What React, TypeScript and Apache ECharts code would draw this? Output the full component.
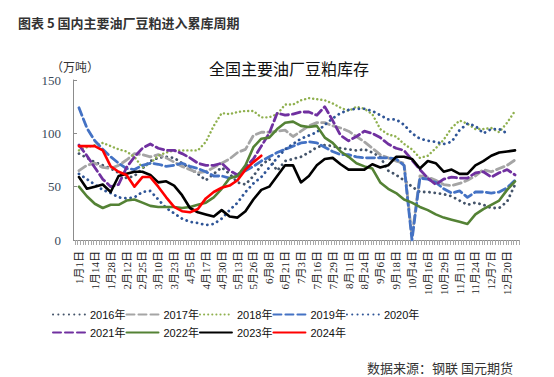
import React, { useEffect, useRef } from "react";
import * as echarts from "echarts";

const categories = [
  "1月1日", "1月7日", "1月14日", "1月21日", "1月28日", "2月5日", "2月12日", "2月18日",
  "2月25日", "3月3日", "3月10日", "3月16日", "3月23日", "3月29日", "4月5日", "4月11日",
  "4月17日", "4月23日", "4月30日", "5月6日", "5月13日", "5月19日", "5月26日", "6月1日",
  "6月8日", "6月14日", "6月21日", "6月27日", "7月3日", "7月9日", "7月16日", "7月22日",
  "7月29日", "8月4日", "8月11日", "8月17日", "8月24日", "8月30日", "9月6日", "9月12日",
  "9月18日", "9月25日", "10月4日", "10月10日", "10月16日", "10月22日", "10月29日", "11月4日",
  "11月11日", "11月17日", "11月24日", "11月30日", "12月7日", "12月13日", "12月20日", "12月27日",
];

const y2016 = [81,77,73,70,67,63,58,60,67,74,77,78,77,72,67,62,56,62,68,62,54,52,60,70,76,65,74,76,78,82,87,89,88,86,85,84,85,82,78,65,61,56,50,45,45,44,43,41,37,33,35,33,30,30,36,52];
const y2017 = [65,70,72,68,67,70,75,81,80,78,80,77,73,69,66,63,64,68,72,76,82,85,98,101,101,102,103,97,102,107,110,110,107,105,102,97,92,86,80,77,74,72,3,60,59,56,52,51,53,56,60,66,64,67,70,75];
const y2018 = [84,87,89,91,88,85,83,78,68,72,79,82,84,84,84,84,92,107,119,118,120,121,121,115,115,118,127,127,131,133,132,131,128,124,121,125,123,118,104,99,97,90,85,77,79,86,94,105,112,109,104,104,105,101,110,121];
const y2019 = [124,105,93,85,78,72,67,66,70,72,71,69,70,72,69,67,64,60,60,58,60,65,69,74,78,82,85,88,91,92,91,87,83,80,80,78,77,77,77,77,76,70,0,58,57,54,48,44,46,40,45,45,44,45,49,56];
const y2020 = [62,57,52,47,44,40,39,40,45,46,38,30,25,20,17,16,14,15,20,28,35,45,53,59,68,77,85,90,95,98,101,108,114,119,122,123,123,121,117,113,113,108,100,95,93,92,90,92,103,109,107,100,104,104,100,null];
const y2021 = [89,79,68,57,50,52,68,78,86,90,86,84,84,81,77,72,70,70,72,65,61,68,76,88,100,119,117,118,120,120,117,125,112,98,93,97,102,100,96,90,86,84,75,66,58,52,57,59,58,58,63,64,59,63,66,61];
const y2022 = [50,41,34,30,33,33,37,38,35,32,31,31,31,30,31,33,35,40,48,58,60,70,87,95,96,104,110,111,107,106,107,96,91,83,78,72,69,67,54,48,44,38,35,31,28,24,21,19,17,15,24,29,33,37,47,55];
const y2023 = [59,48,50,52,45,60,62,64,64,61,54,55,51,42,30,26,24,22,28,22,21,27,38,47,50,60,70,70,54,60,70,76,77,71,66,66,66,71,68,70,78,78,76,67,74,72,64,66,62,62,70,74,79,82,83,84];
const y2024 = [88,88,88,84,69,64,61,50,59,59,50,40,31,27,26,29,39,45,49,51,56,66,73,79];

const yTicks = [0, 50, 100, 150];
const tickCats = Array.from({ length: categories.length * 3 }, () => "");

const DOT_A = [0.1, 5.2];
const DOT_B = [0.1, 4];
const DASH = [8, 4];

function line(name: string, data: (number | null)[], color: string, width: number, type: any, z: number) {
  return {
    name,
    type: "line",
    data,
    symbol: "none",
    showSymbol: false,
    z,
    lineStyle: { color, width, type, cap: "round", join: "round" },
    itemStyle: { color },
    emphasis: { disabled: true },
  };
}

export default function App() {
  const ref = useRef<HTMLDivElement>(null);
  useEffect(() => {
    const chart = echarts.init(ref.current!, null, { renderer: "svg" });
    const legendText = { fontSize: 11, color: "#111", fontFamily: "Liberation Sans, Noto Sans CJK SC", width: 56 };
    const legendBase = {
      left: 47, itemWidth: 32, itemHeight: 14, itemGap: 0, selectedMode: false,
      itemStyle: { opacity: 0, borderWidth: 0 },
      textStyle: legendText,
    };
    chart.setOption({
      animation: false,
      backgroundColor: "#ffffff",
      grid: [
        { left: 75, top: 80, width: 444, height: 160, containLabel: false },
        { left: 75, top: 80, width: 444, height: 160, containLabel: false },
      ],
      graphic: [
        {
          type: "text", left: 18, top: 16,
          style: { text: "图表 5 国内主要油厂豆粕进入累库周期", fontSize: 13, fontWeight: "bold", fill: "#333", fontFamily: "Noto Sans CJK SC" },
        },
        {
          type: "text", x: 289, y: 68,
          style: { text: "全国主要油厂豆粕库存", fontSize: 16, fill: "#111", align: "center", verticalAlign: "middle", fontFamily: "Noto Sans CJK SC" },
        },
        {
          type: "text", x: 51, y: 66,
          style: { text: "（万吨）", fontSize: 12, fill: "#333", verticalAlign: "middle", fontFamily: "Noto Sans CJK SC" },
        },
        {
          type: "text", x: 513, y: 367,
          style: { text: "数据来源：钢联 国元期货", fontSize: 13, fill: "#333", align: "right", verticalAlign: "middle", fontFamily: "Noto Sans CJK SC" },
        },
      ],
      legend: [
        { ...legendBase, top: 304, data: ["2016年", "2017年", "2018年", "2019年", "2020年"] },
        { ...legendBase, top: 322, data: ["2021年", "2022年", "2023年", "2024年"] },
      ],
      xAxis: [
        {
          type: "category", gridIndex: 0, data: categories, boundaryGap: true,
          axisLine: { show: true, lineStyle: { color: "#8c8c8c", width: 1 } },
          axisTick: { show: false },
          axisLabel: {
            interval: 1, rotate: 90, margin: 11, fontSize: 11, color: "#222",
            fontFamily: "Liberation Serif, Noto Sans CJK SC",
          },
          splitLine: { show: false },
        },
        {
          type: "category", gridIndex: 1, data: tickCats, boundaryGap: true,
          axisLine: { show: false },
          axisTick: { show: true, interval: 0, length: 5, lineStyle: { color: "#a8a8a8", width: 1 } },
          axisLabel: { show: false },
          splitLine: { show: false },
        },
      ],
      yAxis: [
        {
          type: "value", gridIndex: 0, min: yTicks[0], max: yTicks[yTicks.length - 1], interval: 50, offset: 2,
          axisLine: { show: true, lineStyle: { color: "#8c8c8c", width: 1 } },
          axisTick: { show: true, inside: true, length: 4, lineStyle: { color: "#8c8c8c" } },
          splitLine: { show: false },
          axisLabel: { margin: 12, fontSize: 13, color: "#3a4a5a", fontFamily: "Liberation Serif" },
        },
        { type: "value", gridIndex: 1, show: false, min: 0, max: 150 },
      ],
      series: [
        line("2016年", y2016, "#44546a", 2.8, DOT_A, 2),
        line("2017年", y2017, "#a5a5a5", 2.8, DASH, 2),
        line("2018年", y2018, "#8fb04e", 2.4, DOT_B, 2),
        line("2019年", y2019, "#4472c4", 2.8, DASH, 2),
        line("2020年", y2020, "#2f5597", 2.8, DOT_A, 2),
        line("2021年", y2021, "#7030a0", 2.8, DASH, 2),
        line("2022年", y2022, "#548235", 2.6, "solid", 3),
        line("2023年", y2023, "#000000", 2.6, "solid", 3),
        line("2024年", y2024, "#ff0000", 2.6, "solid", 4),
      ],
    });
    return () => chart.dispose();
  }, []);
  return <div ref={ref} style={{ position: "fixed", left: 0, top: 0, width: 554, height: 377 }} />;
}
